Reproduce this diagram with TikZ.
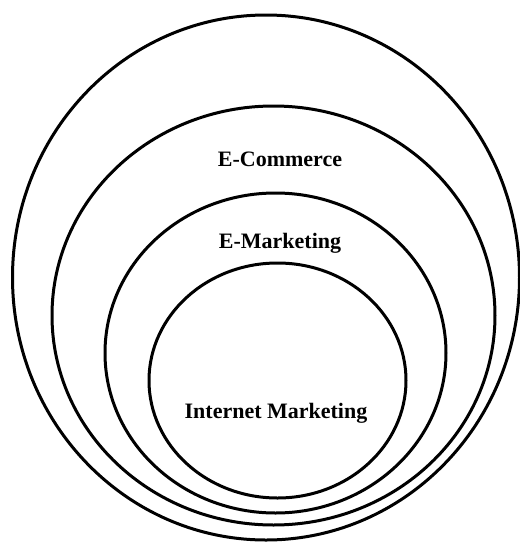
\documentclass[tikz,border=0pt]{standalone}
\usepackage{fontspec}
\setmainfont{Liberation Serif}
\begin{document}
\begin{tikzpicture}[x=1pt,y=-1pt,
  ring/.style={draw=black,line width=3pt},
  lbl/.style={font=\fontsize{22}{26}\selectfont\bfseries,anchor=base,inner sep=0pt}]
\useasboundingbox (0,0) rectangle (520,542);
\draw[ring] (266,277.5) ellipse [x radius=253.5pt, y radius=262.5pt];
\draw[ring] (273.5,315.5) ellipse [x radius=221.5pt, y radius=209.5pt];
\draw[ring] (275.5,353) ellipse [x radius=170.5pt, y radius=160pt];
\draw[ring] (277.5,380.5) ellipse [x radius=128.5pt, y radius=117.5pt];
\node[lbl] (ecom) at (280,166) {E-Commerce};
\node[lbl] (emkt) at (280,248) {E-Marketing};
\node[lbl] (imkt) at (276,418) {Internet Marketing};
\end{tikzpicture}
\end{document}
